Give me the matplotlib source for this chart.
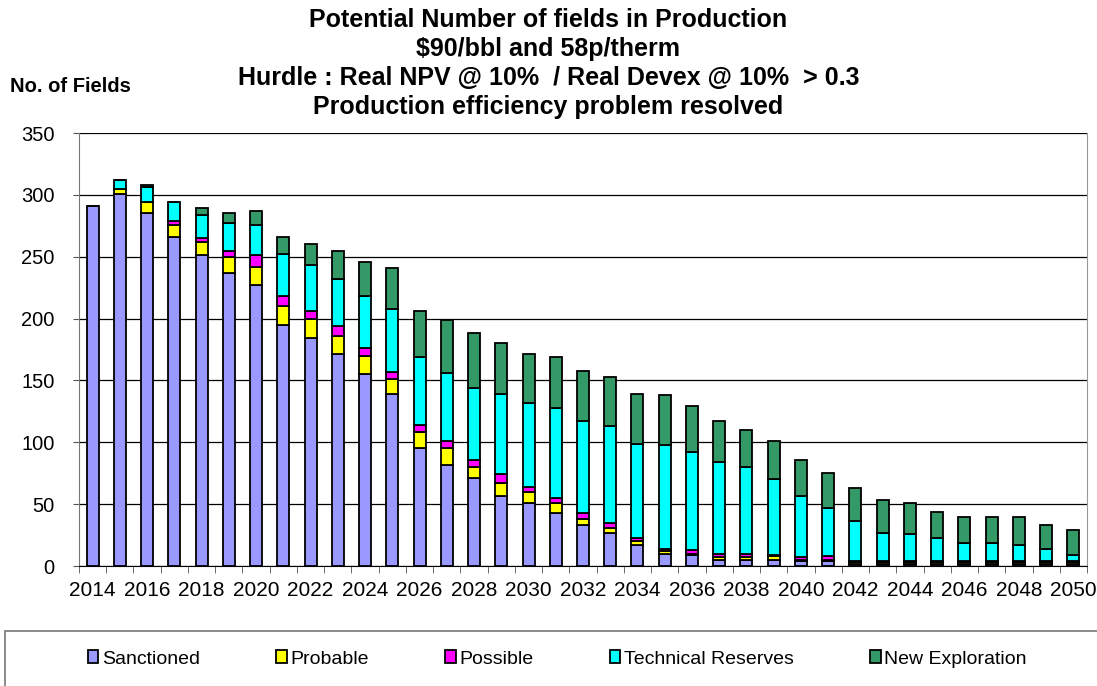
import numpy as np
import matplotlib.pyplot as plt
from matplotlib.patches import Rectangle

plt.rcParams['font.family'] = ['Liberation Sans', 'DejaVu Sans']

# fields in production per year, by category
years = list(range(2014, 2051))
sanctioned = [291, 301, 285, 266, 251, 237, 227, 195, 184, 171, 155, 139, 95, 82, 71, 57, 51, 43, 33,
              27, 17, 10, 9, 5, 5, 5, 4, 4, 2, 2, 2, 2, 2, 2, 2, 2, 2]
probable = [0, 4, 9, 10, 11, 13, 15, 15, 16, 15, 15, 12, 13, 13, 9, 10, 9, 8, 5,
            4, 3, 2, 1, 2, 2, 3, 1, 1, 1, 1, 1, 1, 1, 1, 1, 1, 1]
possible = [0, 0, 0, 3, 3, 5, 9, 8, 6, 8, 6, 6, 6, 6, 6, 7, 4, 4, 5,
            4, 3, 2, 3, 3, 3, 1, 2, 3, 1, 1, 1, 1, 1, 1, 1, 1, 1]
technical = [0, 7, 12, 15, 19, 22, 25, 34, 37, 38, 42, 51, 55, 55, 58, 65, 68, 73, 74,
             78, 76, 84, 79, 74, 70, 61, 50, 39, 32, 23, 22, 19, 15, 15, 13, 10, 5]
exploration = [0, 0, 2, 0, 5, 8, 11, 14, 17, 23, 28, 33, 37, 43, 44, 41, 39, 41, 41,
               40, 40, 40, 37, 33, 30, 31, 29, 28, 27, 26, 25, 21, 21, 21, 23, 19, 20]

series = [
    ('Sanctioned', sanctioned, '#9999FF'),
    ('Probable', probable, '#FFFF00'),
    ('Possible', possible, '#FF00FF'),
    ('Technical Reserves', technical, '#00FFFF'),
    ('New Exploration', exploration, '#339966'),
]

fig = plt.figure(figsize=(10.97, 6.86), dpi=100)
ax = fig.add_axes([79 / 1097, 0.1749, 1008 / 1097, 0.6312])

x = np.arange(len(years))
bottom = np.zeros(len(years))
handles = []
for name, vals, col in series:
    vals = np.array(vals, dtype=float)
    b = ax.bar(x, vals, width=0.44, bottom=bottom, color=col, edgecolor='black',
               linewidth=1.3, label=name, zorder=3)
    handles.append(b)
    bottom += vals

ax.set_xlim(-0.5, len(years) - 0.5)
ax.set_ylim(0, 350)
ax.set_yticks(np.arange(0, 351, 50))
ax.yaxis.grid(True, color='black', linewidth=0.9, zorder=0)
ax.tick_params(axis='y', labelsize=14.5, length=4.5, pad=13, direction='out', color='#555555')

ax.set_xticks(x[::2], [str(y) for y in years[::2]])
ax.set_xticks(np.arange(-0.5, len(years)), minor=True)
ax.tick_params(axis='x', which='major', length=0, labelsize=15, pad=11)
ax.tick_params(axis='x', which='minor', length=5, direction='out', color='#555555')

ax.spines['top'].set_visible(False)
ax.spines['left'].set_color('#777777')
ax.spines['right'].set_color('#999999')
ax.spines['bottom'].set_color('black')

# titles
title_lines = [
    'Potential Number of fields in Production',
    '$90/bbl and 58p/therm',
    'Hurdle : Real NPV @ 10%  / Real Devex @ 10%  > 0.3',
    'Production efficiency problem resolved',
]
for i, line in enumerate(title_lines):
    fig.text(0.5, 1 - (20 + i * 29) / 686, line, ha='center', va='center',
             fontsize=18, fontweight='bold')

fig.text(10 / 1097, 1 - 86 / 686, 'No. of Fields', ha='left', va='center',
         fontsize=14.5, fontweight='bold')

# legend box along the bottom
fig.patches.append(Rectangle((5 / 1097, -0.1), 1.1, 0.1 + (686 - 631) / 686,
                             transform=fig.transFigure, facecolor='white',
                             edgecolor='#777777', linewidth=1.2))
leg = fig.legend(handles=handles, loc='center', bbox_to_anchor=(0.508, 1 - 659 / 686),
                 ncol=5, frameon=False, fontsize=14, handlelength=0.55,
                 handleheight=0.65, handletextpad=0.2, columnspacing=3.9)

fig.savefig('out.png', dpi=100)
